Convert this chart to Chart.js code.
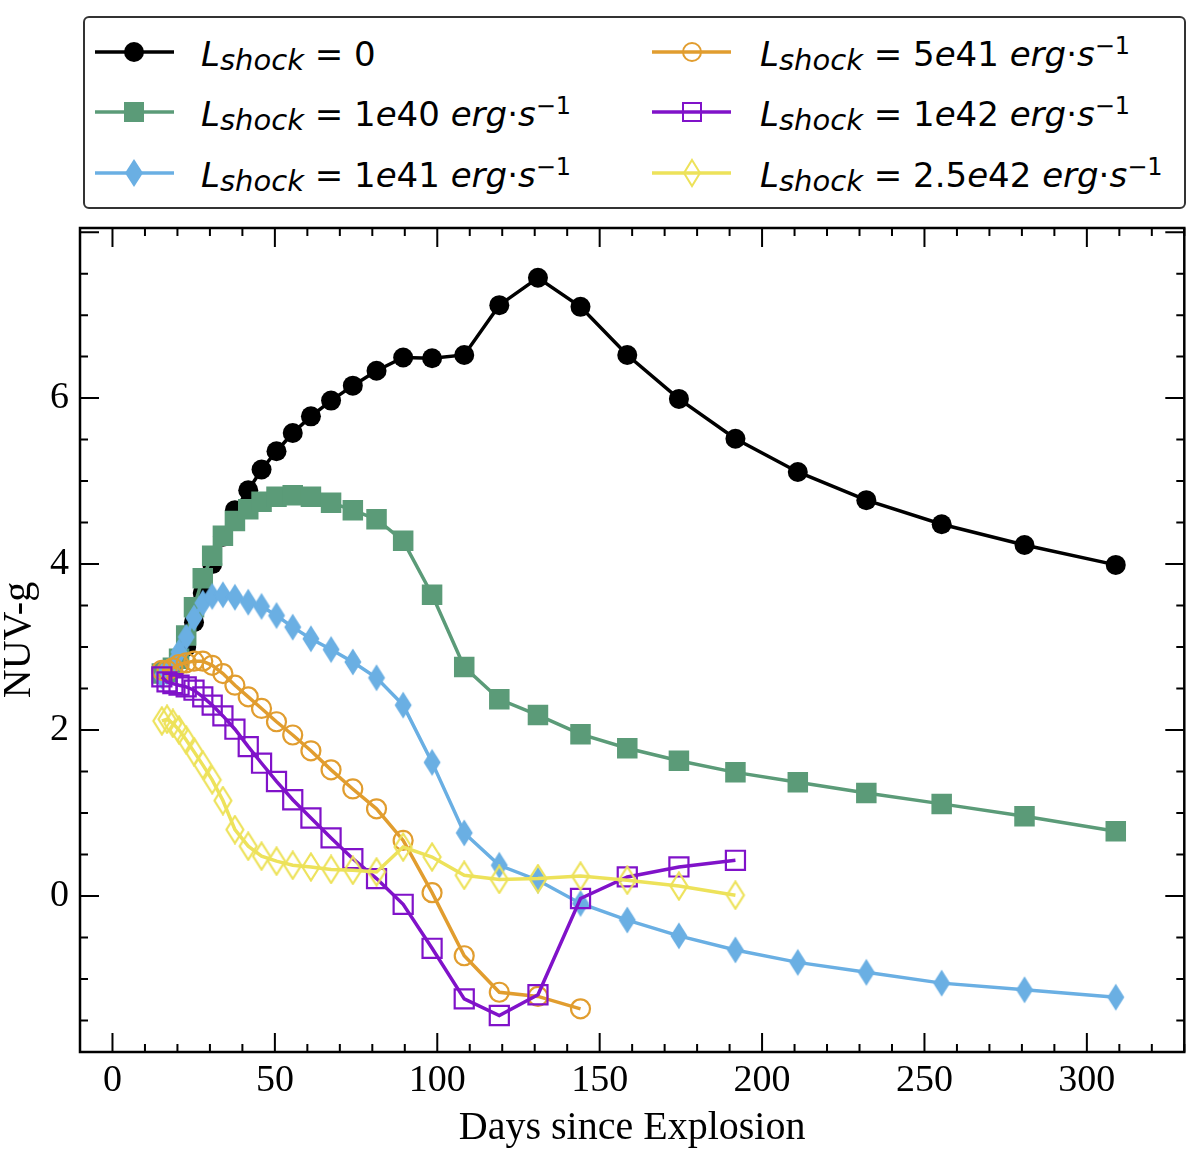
<!DOCTYPE html>
<html>
<head>
<meta charset="utf-8">
<script src="https://cdn.jsdelivr.net/npm/chart.js@4.4.1/dist/chart.umd.min.js"></script>
<style>
    body { margin: 0; background: #fff; }
    #wrap { position: relative; width: 1200px; height: 1149px; }
    #legend {
        position: absolute; left: 83px; top: 16px; width: 1099px; height: 189px;
        border: 2px solid #333; border-radius: 6px; background: #fff;
        font-family: 'DejaVu Sans', sans-serif; color: #000;
    }
    .item { position: absolute; width: 500px; height: 40px; }
    .item svg { position: absolute; left: 0; top: 0; }
    .txt { position: absolute; top: 2px; white-space: nowrap; font-size: 34px; line-height: 40px; }
    .txt i { font-style: oblique; }
    .txt sub { font-size: 29px; line-height: 0; vertical-align: -4px; font-style: oblique; }
    .txt sup { font-size: 24px; line-height: 0; vertical-align: 12px; }
</style>
</head>
<body>
<div id="wrap">
    <canvas id="nuvChart" width="1200" height="1149"></canvas>
    <div id="legend">
        <div class="item" style="left:10px; top:14px;">
            <svg width="80" height="40"><line x1="0" y1="20" x2="79" y2="20" stroke="#000" stroke-width="3.5"/><circle cx="39" cy="20" r="10" fill="#000"/></svg>
            <span class="txt" style="left:106px;"><i>L</i><sub>shock</sub> = 0</span>
        </div>
        <div class="item" style="left:10px; top:74px;">
            <svg width="80" height="40"><line x1="0" y1="20" x2="79" y2="20" stroke="#5b9b78" stroke-width="3.5"/><rect x="29" y="10" width="20" height="20" fill="#5b9b78"/></svg>
            <span class="txt" style="left:106px;"><i>L</i><sub>shock</sub> = 1<i>e</i>40 <i>erg</i>·<i>s</i><sup>−1</sup></span>
        </div>
        <div class="item" style="left:10px; top:135px;">
            <svg width="80" height="40"><line x1="0" y1="20" x2="79" y2="20" stroke="#6aafe3" stroke-width="3.5"/><polygon points="39,6 48,20 39,34 30,20" fill="#6aafe3"/></svg>
            <span class="txt" style="left:106px;"><i>L</i><sub>shock</sub> = 1<i>e</i>41 <i>erg</i>·<i>s</i><sup>−1</sup></span>
        </div>
        <div class="item" style="left:567px; top:14px;">
            <svg width="80" height="40"><line x1="0" y1="20" x2="79" y2="20" stroke="#e19d2f" stroke-width="3.5"/><circle cx="40" cy="20" r="9" fill="none" stroke="#e19d2f" stroke-width="2"/></svg>
            <span class="txt" style="left:108px;"><i>L</i><sub>shock</sub> = 5<i>e</i>41 <i>erg</i>·<i>s</i><sup>−1</sup></span>
        </div>
        <div class="item" style="left:567px; top:74px;">
            <svg width="80" height="40"><line x1="0" y1="20" x2="79" y2="20" stroke="#8012c9" stroke-width="3.5"/><rect x="31" y="11" width="18" height="18" fill="none" stroke="#8012c9" stroke-width="2"/></svg>
            <span class="txt" style="left:108px;"><i>L</i><sub>shock</sub> = 1<i>e</i>42 <i>erg</i>·<i>s</i><sup>−1</sup></span>
        </div>
        <div class="item" style="left:567px; top:135px;">
            <svg width="80" height="40"><line x1="0" y1="20" x2="79" y2="20" stroke="#ede25a" stroke-width="3.5"/><polygon points="40,7 48,20 40,33 32,20" fill="none" stroke="#ede25a" stroke-width="2"/></svg>
            <span class="txt" style="left:108px;"><i>L</i><sub>shock</sub> = 2.5<i>e</i>42 <i>erg</i>·<i>s</i><sup>−1</sup></span>
        </div>
    </div>
</div>
<script>
// Dias de las epocas del modelo
var days = [15.2, 16.8, 18.6, 20.5, 22.7, 25.1, 27.8, 30.7, 34.0, 37.7, 41.8,
    45.9, 50.5, 55.5, 61.1, 67.3, 74.0, 81.3, 89.5, 98.4, 108.3, 119.1, 131.0,
    144.1, 158.5, 174.4, 191.8, 211.0, 232.1, 255.3, 280.8, 308.9];

var shock0 = [2.68, 2.70, 2.75, 2.85, 3.00, 3.30, 3.65, 4.00, 4.33, 4.65, 4.89,
    5.14, 5.36, 5.58, 5.78, 5.97, 6.15, 6.33, 6.49, 6.48, 6.52, 7.12, 7.45,
    7.10, 6.52, 5.99, 5.51, 5.11, 4.77, 4.48, 4.23, 3.99];
var shock1e40 = [2.68, 2.70, 2.75, 2.86, 3.14, 3.48, 3.83, 4.10, 4.34, 4.52, 4.66,
    4.75, 4.81, 4.83, 4.81, 4.74, 4.65, 4.54, 4.28, 3.63, 2.76, 2.37, 2.18,
    1.95, 1.78, 1.63, 1.49, 1.37, 1.24, 1.11, 0.96, 0.78];
var shock1e41 = [2.65, 2.70, 2.78, 2.94, 3.12, 3.35, 3.53, 3.61, 3.63, 3.60, 3.54,
    3.49, 3.38, 3.24, 3.10, 2.97, 2.82, 2.63, 2.30, 1.61, 0.76, 0.37, 0.19,
    -0.09, -0.29, -0.48, -0.65, -0.80, -0.92, -1.05, -1.13, -1.22];
var shock5e41 = [2.72, 2.72, 2.75, 2.79, 2.81, 2.83, 2.83, 2.78, 2.68, 2.54, 2.40,
    2.26, 2.10, 1.94, 1.75, 1.52, 1.29, 1.05, 0.67, 0.04, -0.72, -1.16, -1.21,
    -1.36];
var shock1e42 = [2.64, 2.58, 2.56, 2.54, 2.52, 2.48, 2.40, 2.30, 2.17, 2.01, 1.80,
    1.60, 1.38, 1.16, 0.94, 0.70, 0.45, 0.21, -0.10, -0.63, -1.24, -1.44, -1.19,
    -0.03, 0.23, 0.35, 0.43];
var shock25e42 = [2.11, 2.13, 2.08, 2.00, 1.88, 1.74, 1.58, 1.40, 1.15, 0.80, 0.60,
    0.48, 0.42, 0.37, 0.35, 0.32, 0.31, 0.29, 0.59, 0.47, 0.25, 0.20, 0.21,
    0.24, 0.19, 0.12, 0.01];

var xTicks = [0, 50, 100, 150, 200, 250, 300];
var yTicks = [0, 2, 4, 6];

function puntos(vals) {
    return vals.map(function (v, i) { return { x: days[i], y: v }; });
}

// rombo delgado (marcador 'd' de matplotlib)
function rombo(color, relleno) {
    var c = document.createElement('canvas');
    c.width = 22; c.height = 30;
    var g = c.getContext('2d');
    g.beginPath();
    g.moveTo(11, 1.5); g.lineTo(19.5, 15); g.lineTo(11, 28.5); g.lineTo(2.5, 15);
    g.closePath();
    if (relleno) { g.fillStyle = color; g.fill(); }
    else { g.strokeStyle = color; g.lineWidth = 2.2; g.stroke(); }
    return c;
}

// marco y ticks hacia dentro en los cuatro lados
var marcoTicks = {
    id: 'marcoTicks',
    afterDatasetsDraw: function (chart) {
        var ctx = chart.ctx, a = chart.chartArea, x = chart.scales.x, y = chart.scales.y;
        ctx.save();
        ctx.strokeStyle = '#000';
        ctx.lineWidth = 2;
        ctx.beginPath();
        for (var d = -10; d <= 330; d += 10) {
            var px = x.getPixelForValue(d);
            var len = (d % 50 === 0) ? 19 : 8;
            ctx.moveTo(px, a.bottom); ctx.lineTo(px, a.bottom - len);
            ctx.moveTo(px, a.top); ctx.lineTo(px, a.top + len);
        }
        for (var k = -3; k <= 16; k++) {
            var v = k * 0.5;
            var py = y.getPixelForValue(v);
            var l2 = (k % 4 === 0) ? 19 : 8;
            ctx.moveTo(a.left, py); ctx.lineTo(a.left + l2, py);
            ctx.moveTo(a.right, py); ctx.lineTo(a.right - l2, py);
        }
        ctx.stroke();
        ctx.lineWidth = 2.5;
        ctx.strokeRect(a.left, a.top, a.right - a.left, a.bottom - a.top);
        ctx.restore();
    }
};

var serif = 'Liberation Serif';

var ctx = document.getElementById('nuvChart').getContext('2d');

var myChart = new Chart(ctx, {
    type: 'line',
    data: {
        datasets: [{
            label: 'L_shock = 0',
            data: puntos(shock0),
            borderColor: '#000', backgroundColor: '#000',
            borderWidth: 3.5, pointStyle: 'circle', pointRadius: 10,
            pointBorderWidth: 0, order: 6
        }, {
            label: 'L_shock = 1e40',
            data: puntos(shock1e40),
            borderColor: '#5b9b78', backgroundColor: '#5b9b78',
            borderWidth: 3.5, pointStyle: 'rect', pointRadius: 14.5,
            pointBorderWidth: 0, order: 5
        }, {
            label: 'L_shock = 1e41',
            data: puntos(shock1e41),
            borderColor: '#6aafe3', backgroundColor: '#6aafe3',
            borderWidth: 3.5, pointStyle: rombo('#6aafe3', true), pointRadius: 12,
            order: 4
        }, {
            label: 'L_shock = 5e41',
            data: puntos(shock5e41),
            borderColor: '#e19d2f', backgroundColor: 'rgba(0,0,0,0)',
            pointBorderColor: '#e19d2f',
            borderWidth: 3.5, pointStyle: 'circle', pointRadius: 9.5,
            pointBorderWidth: 2.2, order: 3
        }, {
            label: 'L_shock = 1e42',
            data: puntos(shock1e42),
            borderColor: '#8012c9', backgroundColor: 'rgba(0,0,0,0)',
            pointBorderColor: '#8012c9',
            borderWidth: 3.5, pointStyle: 'rect', pointRadius: 13.5,
            pointBorderWidth: 2.2, order: 2
        }, {
            label: 'L_shock = 2.5e42',
            data: puntos(shock25e42),
            borderColor: '#ede25a', backgroundColor: 'rgba(0,0,0,0)',
            borderWidth: 3.5, pointStyle: rombo('#ede25a', false), pointRadius: 12,
            order: 1
        }]
    },
    options: {
        responsive: false,
        animation: false,
        events: [],
        layout: { padding: { top: 228, right: 13, left: 0, bottom: 0 } },
        elements: { line: { tension: 0 } },
        plugins: { legend: { display: false }, tooltip: { enabled: false } },
        scales: {
            x: {
                type: 'linear', min: -10, max: 330,
                afterBuildTicks: function (s) { s.ticks = xTicks.map(function (v) { return { value: v }; }); },
                afterFit: function (s) { s.height = 97; },
                grid: { display: false, drawTicks: false },
                border: { display: false },
                ticks: { color: '#000', font: { family: serif, size: 38 }, padding: 6, maxRotation: 0, autoSkip: false },
                title: { display: true, text: 'Days since Explosion', color: '#000',
                    font: { family: serif, size: 40, lineHeight: 1.05 }, padding: 0 }
            },
            y: {
                type: 'linear', min: -1.88, max: 8.05,
                afterBuildTicks: function (s) { s.ticks = yTicks.map(function (v) { return { value: v }; }); },
                afterFit: function (s) { s.width = 80; },
                grid: { display: false, drawTicks: false },
                border: { display: false },
                ticks: { color: '#000', font: { family: serif, size: 38 }, padding: 11 },
                title: { display: true, text: 'NUV-g', color: '#000',
                    font: { family: serif, size: 40, lineHeight: 0.95 }, padding: 0 }
            }
        }
    },
    plugins: [marcoTicks]
});
</script>
</body>
</html>
